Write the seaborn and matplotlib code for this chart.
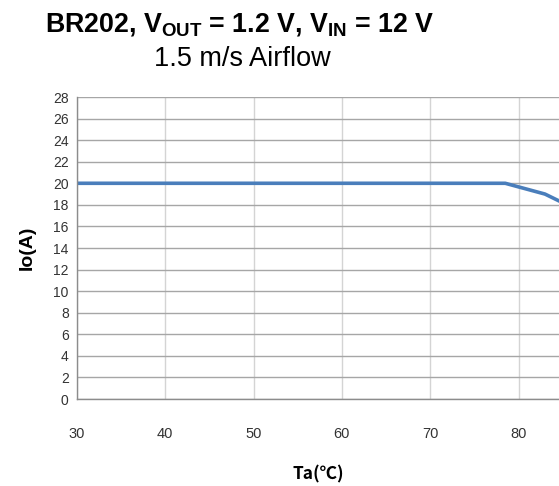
import matplotlib
matplotlib.use("Agg")
import matplotlib.pyplot as plt
import seaborn as sns
import pandas as pd

# data
ta = [30, 40, 50, 60, 70, 78.5, 83, 85]
io = [20, 20, 20, 20, 20, 20, 19.0, 18.2]
x_ticks = [30, 40, 50, 60, 70, 80]
y_ticks = list(range(0, 29, 2))

sns.set_style("white")
plt.rcParams["font.family"] = ["Liberation Sans", "DejaVu Sans"]
plt.rcParams["mathtext.fontset"] = "custom"
plt.rcParams["mathtext.rm"] = "Liberation Sans"
plt.rcParams["mathtext.bf"] = "Liberation Sans:bold"

df = pd.DataFrame({"Ta": ta, "Io": io})

fig = plt.figure(figsize=(5.59, 4.86), dpi=100)
ax = fig.add_axes([77 / 559, 1 - 399 / 486, 1 - 77 / 559, (399 - 97) / 486])

sns.lineplot(data=df, x="Ta", y="Io", ax=ax, color="#4a7ebb", linewidth=2.6)

ax.set_xlim(30, 30 + (559 - 77) / 8.83)
ax.set_ylim(0, 28)
ax.set_xticks(x_ticks)
ax.set_yticks(y_ticks)
ax.tick_params(axis="both", length=0, colors="#333333")
ax.tick_params(axis="x", labelsize=10.5, pad=20)
ax.tick_params(axis="y", labelsize=10, pad=6)

ax.yaxis.grid(True, color="#a6a6a6", linewidth=1)
ax.xaxis.grid(True, color="#d4d4d4", linewidth=1)
ax.set_axisbelow(True)
for side in ["top", "right"]:
    ax.spines[side].set_visible(False)
for side in ["left", "bottom"]:
    ax.spines[side].set_color("#8c8c8c")
    ax.spines[side].set_linewidth(1)

ax.set_ylabel("Io(A)", fontsize=14, fontweight="bold", labelpad=12, color="black")
ax.set_xlabel("Ta(℃)", fontsize=12.5, fontweight="bold", labelpad=18, color="black",
              family=["Noto Sans CJK SC", "DejaVu Sans"])

fig.text(240 / 559, 1 - 24 / 486,
         r"BR202, V$_{\mathbf{OUT}}$ = 1.2 V, V$_{\mathbf{IN}}$ = 12 V",
         ha="center", va="center", fontsize=19.3, fontweight="bold", color="black")
fig.text(242 / 559, 1 - 59 / 486, "1.5 m/s Airflow",
         ha="center", va="center", fontsize=19.5, color="black")

fig.savefig("out.png", dpi=100)
